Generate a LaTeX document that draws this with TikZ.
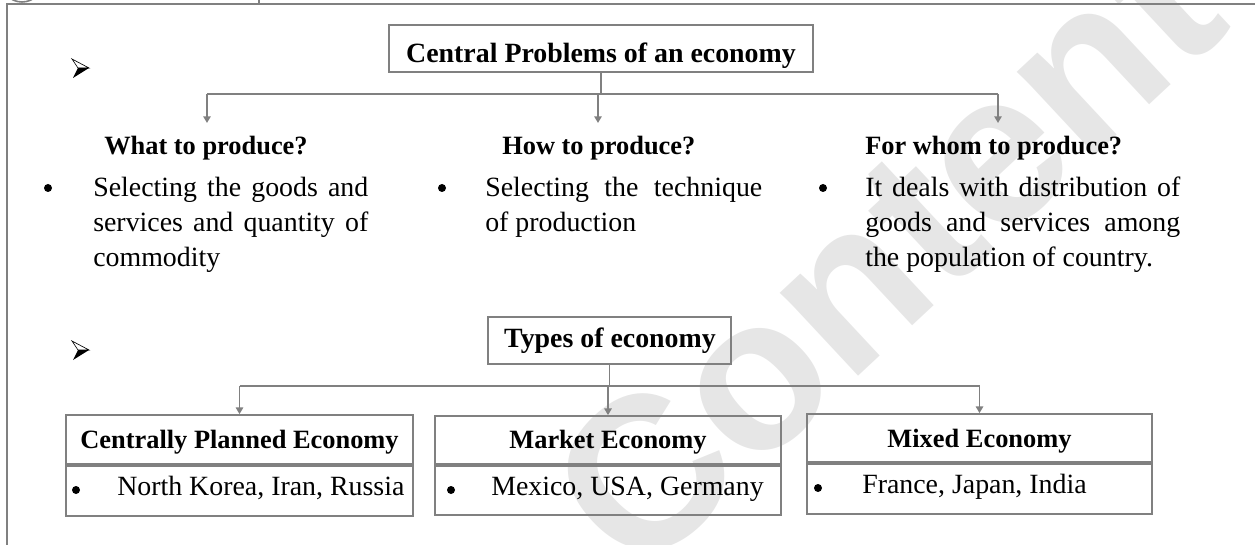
\documentclass[tikz,border=0pt]{standalone}
\usepackage{fontspec}
\setmainfont{Liberation Serif}
\newfontfamily\wmfont{Liberation Sans}
\usetikzlibrary{arrows.meta}
\definecolor{linegray}{HTML}{808080}
\definecolor{wmgray}{HTML}{E6E6E6}
\tikzset{
  conn/.style={draw=linegray,line width=1.2pt},
  arr/.style={conn,-{Triangle[width=5.5pt,length=5pt]}},
  boxed/.style={draw=linegray,line width=1.3pt,inner sep=0pt},
  bigbold/.style={font=\fontsize{20.9}{25}\selectfont\bfseries,inner sep=0pt},
  headbold/.style={font=\fontsize{19.8}{24}\selectfont\bfseries,inner sep=0pt,anchor=base west},
  body/.style={font=\fontsize{20.9}{26}\selectfont,inner sep=0pt,anchor=base west},
  dot/.style={circle,fill=black,inner sep=0pt,minimum size=6pt},
  frame/.style={draw=linegray,line width=1.7pt},
  arrbullet/.pic={
    \fill[black] (17,9) -- (6,9) -- (1,19) -- cycle;
    \draw[black,line width=0.5pt,line join=miter] (17,9) -- (0,0) -- (6,9) -- cycle;
  }
}
\begin{document}
\begin{tikzpicture}[x=0.75pt,y=-0.75pt]
\useasboundingbox (0,0) rectangle (1255,545);
% watermark
\begin{scope}
  \clip (0,0) rectangle (1255,545);
  \node[font=\wmfont\bfseries\fontsize{162}{162}\selectfont,text=wmgray,rotate=43,inner sep=0pt] (wm) at (885,250) {Content};
  % logo remnant
  \draw[linegray,line width=1.2pt] (22,-19) circle[radius=21];
\end{scope}
% page frame
\draw[frame] (7,545) -- (7,4) -- (1255,4);
\draw[frame] (259,0) -- (259,4);

% arrow bullets
\pic at (72,59) {arrbullet};
\pic at (72,341) {arrbullet};

% ---------- central problems ----------
\node[boxed,minimum width=318pt,minimum height=35.25pt] (central) at (601,48.5) {};
\node[bigbold,anchor=base] (centralt) at (601,63) {Central Problems of an economy};

\coordinate (tj) at (601,94);
\coordinate (a1) at (207,123);
\coordinate (a2) at (598,123);
\coordinate (a3) at (998,123);
\draw[conn] (central.south) -- (tj);
\draw[conn] (a1 |- tj) -- (a3 |- tj);
\draw[arr] (a1 |- tj) -- (a1);
\draw[arr] (a2 |- tj) -- (a2);
\draw[arr] (a3 |- tj) -- (a3);

\node[headbold] (what) at (104,155) {What to produce?};
\node[headbold] (how) at (502,155) {How to produce?};
\node[headbold] (whom) at (865,155) {For whom to produce?};

\node[dot] (d1) at (48,188) {};
\node[dot] (d2) at (442,188) {};
\node[dot] (d3) at (823,188) {};

\node[body] (w1) at (93,197) {\makebox[206.25pt][s]{Selecting the goods and}};
\node[body] (w2) at (93,231.5) {\makebox[206.25pt][s]{services and quantity of}};
\node[body] (w3) at (93,266) {commodity};

\node[body] (h1) at (485,197) {\makebox[207.75pt][s]{Selecting the technique}};
\node[body] (h2) at (485,231.5) {of production};

\node[body] (f1) at (865,197) {\makebox[236.25pt][s]{It deals with distribution of}};
\node[body] (f2) at (865,231.5) {\makebox[236.25pt][s]{goods and services among}};
\node[body] (f3) at (865,266) {the population of country.};

% ---------- types of economy ----------
\node[boxed,minimum width=182.25pt,minimum height=35.25pt] (types) at (609.5,340.5) {};
\node[bigbold,anchor=base] (typest) at (610,347) {Types of economy};

% bottom boxes
\node[boxed,minimum width=260.25pt,minimum height=36.75pt] (cpeh) at (239.5,439.5) {};
\node[boxed,minimum width=260.25pt,minimum height=37.5pt,anchor=north] (cpeb) at (cpeh.south) {};
\node[boxed,minimum width=259.5pt,minimum height=36pt] (meh) at (608,440) {};
\node[boxed,minimum width=259.5pt,minimum height=36.75pt,anchor=north] (meb) at (meh.south) {};
\node[boxed,minimum width=258.75pt,minimum height=36pt] (mixh) at (979.5,438) {};
\node[boxed,minimum width=258.75pt,minimum height=37.5pt,anchor=north] (mixb) at (mixh.south) {};

\node[headbold,anchor=base] (cpet) at (239.5,448) {Centrally Planned Economy};
\node[headbold,anchor=base] (met) at (608,448) {Market Economy};
\node[headbold,anchor=base] (mixt) at (979.5,447) {Mixed Economy};

\node[dot] (e1) at (76,490) {};
\node[dot] (e2) at (451,490) {};
\node[dot] (e3) at (818,488) {};
\node[body] (cpex) at (117,495) {North Korea, Iran, Russia};
\node[body] (mex) at (491,495) {Mexico, USA, Germany};
\node[body] (mixx) at (862,493) {France, Japan, India};

\coordinate (bj) at (609.5,386);
\draw[conn] (types.south) -- (bj);
\draw[conn] (cpeh.north |- bj) -- (mixh.north |- bj);
\draw[arr] (cpeh.north |- bj) -- (cpeh.north);
\draw[arr] (meh.north |- bj) -- (meh.north);
\draw[arr] (mixh.north |- bj) -- (mixh.north);
\end{tikzpicture}
\end{document}
